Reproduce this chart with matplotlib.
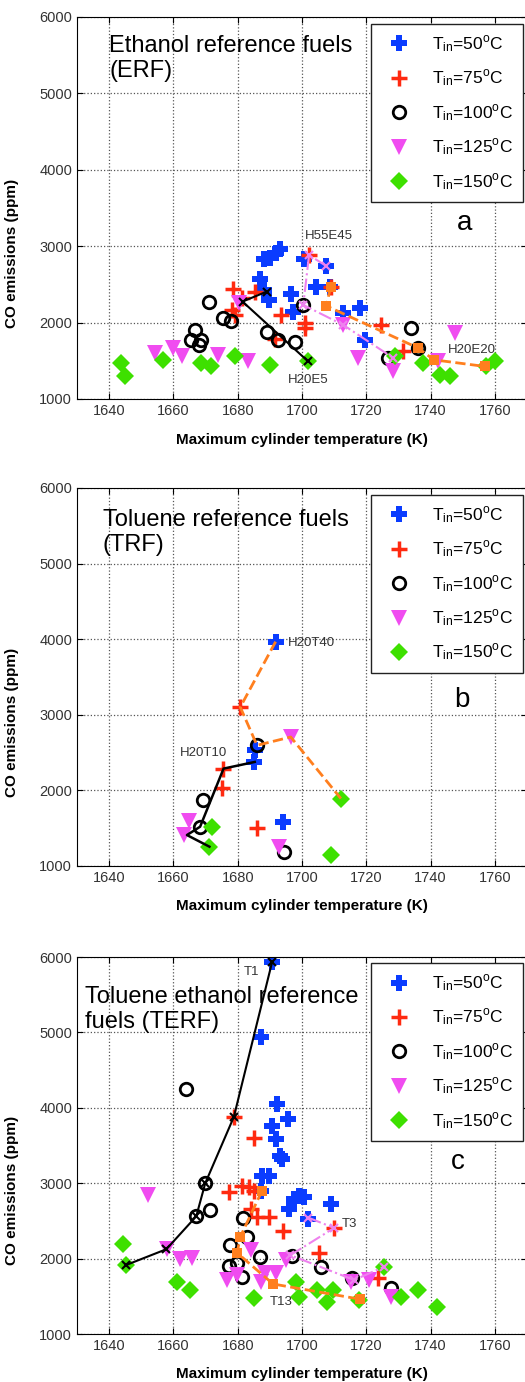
import numpy as np
import matplotlib
matplotlib.use('Agg')
import matplotlib.pyplot as plt

plt.rcParams['font.family'] = ['Liberation Sans', 'DejaVu Sans']
plt.rcParams['mathtext.fontset'] = 'custom'
plt.rcParams['mathtext.rm'] = 'Liberation Sans'

temps = [50, 75, 100, 125, 150]

# ---- panel a: ERF ----
erf_50_x = [1686.9, 1688.1, 1690.2, 1691.9, 1693.1, 1688.1, 1689.8, 1696.7, 1697.2, 1700.7, 1704.5, 1707.6, 1708.7, 1712.8, 1718.0, 1719.6]
erf_50_y = [2566, 2827, 2840, 2905, 2958, 2427, 2296, 2375, 2144, 2827, 2470, 2740, 2470, 2122, 2188, 1774]
erf_75_x = [1678.6, 1685.3, 1681.2, 1678.1, 1679.2, 1693.6, 1700.9, 1700.9, 1702.2, 1708.9, 1724.7, 1731.5, 1691.5]
erf_75_y = [2436, 2405, 2318, 2166, 2100, 2100, 1992, 1927, 2883, 2470, 1970, 1622, 1780]
erf_100_x = [1671.1, 1675.4, 1677.8, 1666.7, 1665.6, 1668.7, 1668.0, 1689.0, 1692.6, 1697.8, 1700.4, 1726.8, 1733.8, 1736.2]
erf_100_y = [2266, 2057, 2027, 1905, 1774, 1774, 1709, 1874, 1766, 1744, 2231, 1535, 1927, 1666]
erf_125_x = [1654.2, 1659.9, 1662.8, 1673.9, 1683.3, 1680.5, 1712.8, 1717.5, 1728.3, 1747.6, 1742.4]
erf_125_y = [1600, 1666, 1557, 1570, 1492, 2260, 1970, 1535, 1361, 1861, 1492]
erf_150_x = [1643.8, 1644.9, 1656.8, 1668.7, 1671.8, 1679.1, 1690.0, 1701.9, 1728.9, 1737.7, 1742.9, 1746.0, 1760.0, 1757.2]
erf_150_y = [1470, 1296, 1513, 1470, 1426, 1557, 1448, 1492, 1557, 1470, 1318, 1296, 1492, 1426]
erf_h20e5_x = [1689.0, 1681.5, 1701.9]
erf_h20e5_y = [2405, 2275, 1492]
erf_h55e45_x = [1707.6, 1702.2, 1700.4, 1712.8, 1728.3]
erf_h55e45_y = [2740, 2883, 2231, 1970, 1540]
erf_h20e20_x = [1708.9, 1707.6, 1736.2, 1741.0, 1756.9]
erf_h20e20_y = [2470, 2218, 1666, 1513, 1426]

# ---- panel b: TRF ----
trf_50_x = [1691.8, 1685.5, 1685.0, 1694.2]
trf_50_y = [3967, 2530, 2376, 1585]
trf_75_x = [1680.8, 1675.4, 1675.1, 1686.0]
trf_75_y = [3101, 2288, 2037, 1506]
trf_100_x = [1686.0, 1669.2, 1668.3, 1694.4]
trf_100_y = [2596, 1879, 1519, 1189]
trf_125_x = [1696.5, 1664.7, 1663.3, 1692.8]
trf_125_y = [2706, 1598, 1409, 1255]
trf_150_x = [1712.1, 1672.0, 1671.2, 1709.0]
trf_150_y = [1892, 1510, 1255, 1145]
trf_h20t10_x = [1685.3, 1675.6, 1668.3, 1664.2, 1671.2]
trf_h20t10_y = [2376, 2288, 1519, 1409, 1255]
trf_h20t40_x = [1691.8, 1680.8, 1686.0, 1696.5, 1712.1]
trf_h20t40_y = [3967, 3101, 2596, 2706, 1892]

# ---- panel c: TERF ----
terf_50_x = [1690.7, 1687.1, 1692.1, 1695.7, 1690.7, 1691.8, 1693.3, 1693.8, 1687.6, 1689.7, 1699.1, 1697.5, 1695.9, 1700.6, 1709.0, 1702.0, 1687.4]
terf_50_y = [5933, 4942, 4053, 3849, 3760, 3585, 3365, 3321, 3101, 3101, 2825, 2793, 2662, 2815, 2720, 2530, 2903]
terf_75_x = [1678.8, 1685.0, 1677.2, 1681.4, 1683.5, 1685.0, 1684.0, 1686.0, 1689.7, 1694.2, 1710.0, 1705.3, 1723.5]
terf_75_y = [3880, 3594, 2881, 2969, 2956, 2903, 2662, 2552, 2552, 2363, 2407, 2077, 1738]
terf_100_x = [1669.9, 1671.5, 1667.1, 1681.7, 1682.9, 1677.7, 1679.8, 1677.2, 1681.4, 1686.9, 1697.0, 1705.8, 1715.7, 1727.7, 1664.0]
terf_100_y = [3000, 2649, 2561, 2543, 2288, 2178, 1936, 1906, 1760, 2016, 2037, 1892, 1738, 1607, 4244]
terf_125_x = [1652.0, 1657.9, 1662.1, 1665.7, 1684.0, 1676.7, 1679.8, 1687.1, 1688.6, 1691.8, 1694.9, 1715.2, 1721.0, 1727.7]
terf_125_y = [2846, 2125, 1989, 2002, 2112, 1717, 1782, 1695, 1805, 1805, 1980, 1695, 1717, 1497]
terf_150_x = [1644.2, 1645.2, 1661.0, 1665.2, 1685.0, 1698.0, 1699.1, 1704.8, 1707.9, 1709.5, 1717.8, 1725.6, 1730.8, 1736.0, 1742.1]
terf_150_y = [2191, 1914, 1695, 1585, 1475, 1695, 1497, 1585, 1431, 1585, 1453, 1892, 1497, 1585, 1365]
terf_t1_x = [1645.2, 1657.8, 1667.1, 1669.9, 1678.8, 1690.7]
terf_t1_y = [1914, 2125, 2561, 3000, 3880, 5933]
terf_t13_x = [1687.6, 1680.8, 1679.8, 1691.0, 1718.1]
terf_t13_y = [2903, 2288, 2077, 1664, 1462]
terf_t3_x = [1702.0, 1710.0, 1696.4, 1716.2, 1725.6]
terf_t3_y = [2543, 2407, 2046, 1717, 1892]

styles = {
    50: dict(marker='P', color='#0a3cff', ms=11, mew=0),
    75: dict(marker='+', color='#ff2a10', ms=11, mew=2.5),
    100: dict(marker='o', color='black', mfc='none', ms=9, mew=2),
    125: dict(marker='v', color='#f04cf0', ms=12, mew=0),
    150: dict(marker='D', color='#3ee000', ms=9, mew=0),
}

fig = plt.figure(figsize=(5.25, 13.82), dpi=100)
boxes = [[0.1467, 0.7113, 0.857, 0.2764],
         [0.1467, 0.3734, 0.857, 0.2735],
         [0.1467, 0.0347, 0.857, 0.2728]]


def setup(ax):
    ax.set_xlim(1630, 1770)
    ax.set_ylim(1000, 6000)
    ax.set_xticks(np.arange(1640, 1761, 20))
    ax.set_yticks(np.arange(1000, 6001, 1000))
    ax.grid(True, linestyle=':', color='#555555', linewidth=0.9)
    ax.tick_params(direction='in', top=True, right=True, labelsize=10.5,
                   labelcolor='#333333', length=4)
    ax.set_xlabel('Maximum cylinder temperature (K)', fontsize=11, fontweight='bold')
    ax.set_ylabel('CO emissions (ppm)', fontsize=11, fontweight='bold')
    ax.xaxis.set_label_coords(0.5, -0.088)
    ax.yaxis.set_label_coords(-0.13, 0.38)


def scatter_sets(ax, sets):
    handles = []
    for t, (xs, ys) in zip(temps, sets):
        h, = ax.plot(xs, ys, linestyle='none', **styles[t],
                     label=r'$\mathregular{T_{in}}$=%d$^\mathregular{o}$C' % t)
        handles.append(h)
    return handles


def legend(ax, handles, top):
    ax.legend(handles=handles, loc='upper right', bbox_to_anchor=(0.991, top),
              borderaxespad=0, fontsize=12.5, labelspacing=0.75, handletextpad=0.8,
              frameon=True, fancybox=False, edgecolor='#222222', framealpha=1,
              borderpad=0.55, handlelength=2.2)


# panel a
ax = fig.add_axes(boxes[0])
setup(ax)
hs = scatter_sets(ax, [(erf_50_x, erf_50_y), (erf_75_x, erf_75_y), (erf_100_x, erf_100_y),
                       (erf_125_x, erf_125_y), (erf_150_x, erf_150_y)])
ax.plot(erf_h20e5_x, erf_h20e5_y, '-x', color='black', lw=1.5, ms=6, mew=1.5)
ax.plot(erf_h55e45_x, erf_h55e45_y, '-.x', color='#ee82ee', lw=1.5, ms=6, mew=1.5)
ax.plot(erf_h20e20_x, erf_h20e20_y, '--s', color='#ff7f1e', lw=2, ms=7, mew=0)
ax.text(1701, 3060, 'H55E45', fontsize=9.5, color='#333333', va='bottom')
ax.text(1695.5, 1330, 'H20E5', fontsize=9.5, color='#333333', va='top')
ax.text(1745.5, 1560, 'H20E20', fontsize=9.5, color='#333333', va='bottom')
ax.text(1750.5, 3300, 'a', fontsize=20, ha='center', va='center')
ax.text(1640, 5760, 'Ethanol reference fuels\n(ERF)', fontsize=17, va='top',
        linespacing=1.15)
legend(ax, hs, 0.982)

# panel b
ax = fig.add_axes(boxes[1])
setup(ax)
hs = scatter_sets(ax, [(trf_50_x, trf_50_y), (trf_75_x, trf_75_y), (trf_100_x, trf_100_y),
                       (trf_125_x, trf_125_y), (trf_150_x, trf_150_y)])
ax.plot(trf_h20t10_x, trf_h20t10_y, '-', color='black', lw=1.8)
ax.plot(trf_h20t40_x, trf_h20t40_y, '--', color='#ff7f1e', lw=2)
ax.text(1695.5, 3950, 'H20T40', fontsize=9.5, color='#333333', va='center')
ax.text(1662, 2420, 'H20T10', fontsize=9.5, color='#333333', va='bottom')
ax.text(1749.7, 3190, 'b', fontsize=20, ha='center', va='center')
ax.text(1638, 5720, 'Toluene reference fuels\n(TRF)', fontsize=17, va='top',
        linespacing=1.15)
legend(ax, hs, 0.982)

# panel c
ax = fig.add_axes(boxes[2])
setup(ax)
hs = scatter_sets(ax, [(terf_50_x, terf_50_y), (terf_75_x, terf_75_y), (terf_100_x, terf_100_y),
                       (terf_125_x, terf_125_y), (terf_150_x, terf_150_y)])
ax.plot(terf_t1_x, terf_t1_y, '-x', color='black', lw=1.5, ms=6, mew=1.5)
ax.plot(terf_t13_x, terf_t13_y, '--s', color='#ff7f1e', lw=2, ms=7, mew=0)
ax.plot(terf_t3_x, terf_t3_y, '-.x', color='#ee82ee', lw=1.5, ms=6, mew=1.5)
ax.text(1682, 5800, 'T1', fontsize=9.5, color='#333333', va='center')
ax.text(1712.5, 2460, 'T3', fontsize=9.5, color='#333333', va='center')
ax.text(1690, 1430, 'T13', fontsize=9.5, color='#333333', va='center')
ax.text(1748.5, 3280, 'c', fontsize=20, ha='center', va='center')
ax.text(1632.4, 5610, 'Toluene ethanol reference\nfuels (TERF)', fontsize=17, va='top',
        linespacing=1.15)
legend(ax, hs, 0.984)

fig.savefig('out.png', dpi=100)
